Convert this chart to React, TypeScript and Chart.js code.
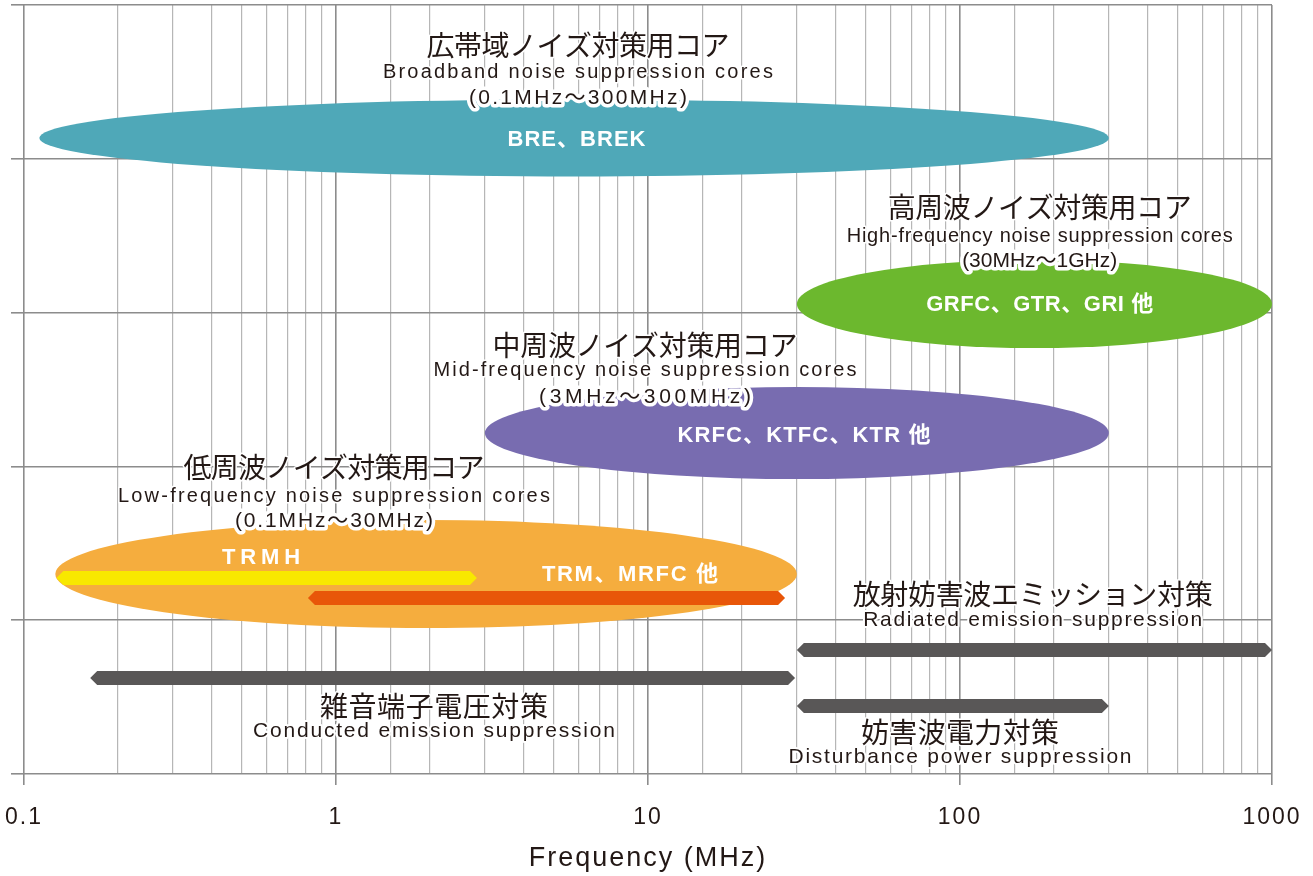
import { useEffect, useRef } from 'react';
import { Chart, registerables } from 'chart.js';

Chart.register(...registerables);

// ---------- data ----------
const tickLabels = ['0.1', '1', '10', '100', '1000'];
const axisTitle = 'Frequency (MHz)';

// noise suppression core families (ellipses), frequency in MHz, rows in chart units
const coreNames = ['広帯域ノイズ対策用コア', '高周波ノイズ対策用コア', '中周波ノイズ対策用コア', '低周波ノイズ対策用コア'];
const coreNamesEn = [
  'Broadband noise suppression cores',
  'High-frequency noise suppression cores',
  'Mid-frequency noise suppression cores',
  'Low-frequency noise suppression cores',
];
const coreRanges = ['(0.1MHz〜300MHz)', '(30MHz〜1GHz)', '(3MHz〜300MHz)', '(0.1MHz〜30MHz)'];
const coreFrom = [0.112, 30, 3, 0.126];
const coreTo = [300, 1000, 300, 30];
const coreTop = [4.386, 3.342, 2.516, 1.651];
const coreBottom = [3.885, 2.77, 1.918, 0.949];
const coreLabelX = [5.96, 180, 9.78, 0.985];
const coreTitleY = [4.74, 3.683, 2.789, 1.993];
const coreEnY = [4.564, 3.495, 2.624, 1.804];
const coreRangeY = [4.395, 3.335, 2.451, 1.645];

// product series labels
const productNames = ['BRE、BREK', 'GRFC、GTR、GRI 他', 'KRFC、KTFC、KTR 他', 'TRMH', 'TRM、MRFC 他'];
const productX = [5.9, 180, 31.6, 0.575, 8.75];
const productY = [4.122, 3.049, 2.198, 1.404, 1.294];

// sub bands inside the low-frequency family
const subFrom = [0.127, 0.813];
const subTo = [2.83, 27.5];
const subY = [1.274, 1.144];

// regulation bands
const regNames = ['放射妨害波エミッション対策', '雑音端子電圧対策', '妨害波電力対策'];
const regNamesEn = ['Radiated emission suppression', 'Conducted emission suppression', 'Disturbance power suppression'];
const regFrom = [30, 0.163, 30];
const regTo = [1000, 29.6, 300];
const regY = [0.806, 0.624, 0.442];
const regLabelX = [171, 2.06, 100];
const regTitleY = [1.17, 0.442, 0.273];
const regEnY = [0.998, 0.28, 0.107];

// ---------- styles ----------
const CORE_COLORS = ['#4fa8b8', '#6cb82e', '#786cb0', '#f5ad3e'];
const SUB_COLORS = ['#f8e800', '#e85609'];
const REG_COLOR = '#595757';
const TEXT = '#231815';
const MAJOR = '#8c8c8c';
const MINOR = '#b6b6b6';
const JP_FONT = '28px "Noto Sans CJK JP", sans-serif';
const EN_FONT = '20px "Liberation Sans", "Noto Sans CJK JP", sans-serif';
const REG_EN_FONT = '21px "Liberation Sans", "Noto Sans CJK JP", sans-serif';
const RANGE_FONT = '21px "Liberation Sans", "Noto Sans CJK JP", sans-serif';
const PRODUCT_FONT = 'bold 22px "Liberation Sans", "Noto Sans CJK JP", sans-serif';
const coreTitleW = [303, 304, 305, 301];
const coreEnW = [390, 386, 423, 432];
const coreRangeW = [218, 155, 212, 198];
const productW = [138, 227, 253, 78, 176];
const regTitleW = [360, 228, 198];
const regEnW = [339, 362, 343];
const BAR_H = 14;
const BAR_TIP = 7;

const isDecade = (v: number) => {
  const l = Math.log10(v);
  return Math.abs(l - Math.round(l)) < 1e-6;
};

function drawLabel(
  ctx: CanvasRenderingContext2D,
  text: string,
  cx: number,
  cy: number,
  font: string,
  color: string,
  width: number,
  halo: number
) {
  ctx.save();
  ctx.font = font;
  (ctx as any).letterSpacing = '0px';
  const w = ctx.measureText(text).width;
  const n = Array.from(text).length;
  let ls = 0;
  if (width && n > 1) ls = (width - w) / (n - 1);
  (ctx as any).letterSpacing = ls + 'px';
  ctx.textAlign = 'left';
  ctx.textBaseline = 'middle';
  const x = cx - (w + ls * (n - 1)) / 2;
  if (halo > 0) {
    ctx.lineWidth = halo;
    ctx.strokeStyle = '#ffffff';
    ctx.lineJoin = 'round';
    ctx.strokeText(text, x, cy);
  }
  ctx.fillStyle = color;
  ctx.fillText(text, x, cy);
  ctx.restore();
}

function drawBar(ctx: CanvasRenderingContext2D, x0: number, x1: number, yc: number, color: string) {
  const h = BAR_H / 2;
  ctx.beginPath();
  ctx.moveTo(x0, yc);
  ctx.lineTo(x0 + BAR_TIP, yc - h);
  ctx.lineTo(x1 - BAR_TIP, yc - h);
  ctx.lineTo(x1, yc);
  ctx.lineTo(x1 - BAR_TIP, yc + h);
  ctx.lineTo(x0 + BAR_TIP, yc + h);
  ctx.closePath();
  ctx.fillStyle = color;
  ctx.fill();
}

const bandsPlugin = {
  id: 'bands',
  beforeDraw(chart: any) {
    chart.ctx.letterSpacing = '2px';
  },
  afterDatasetsDraw(chart: any) {
    const { ctx, scales } = chart;
    const xs = scales.x;
    const ys = scales.y;
    ctx.save();
    // ellipses
    for (let i = 0; i < coreNames.length; i++) {
      const x0 = xs.getPixelForValue(coreFrom[i]);
      const x1 = xs.getPixelForValue(coreTo[i]);
      const y0 = ys.getPixelForValue(coreTop[i]);
      const y1 = ys.getPixelForValue(coreBottom[i]);
      ctx.beginPath();
      ctx.ellipse((x0 + x1) / 2, (y0 + y1) / 2, (x1 - x0) / 2, (y1 - y0) / 2, 0, 0, Math.PI * 2);
      ctx.fillStyle = CORE_COLORS[i];
      ctx.fill();
    }
    // sub bands
    for (let i = 0; i < subFrom.length; i++) {
      drawBar(ctx, xs.getPixelForValue(subFrom[i]), xs.getPixelForValue(subTo[i]), ys.getPixelForValue(subY[i]), SUB_COLORS[i]);
    }
    // regulation bands
    for (let i = 0; i < regFrom.length; i++) {
      drawBar(ctx, xs.getPixelForValue(regFrom[i]), xs.getPixelForValue(regTo[i]), ys.getPixelForValue(regY[i]), REG_COLOR);
    }
    // texts
    for (let i = 0; i < coreNames.length; i++) {
      const cx = xs.getPixelForValue(coreLabelX[i]);
      drawLabel(ctx, coreNames[i], cx, ys.getPixelForValue(coreTitleY[i]), JP_FONT, TEXT, coreTitleW[i], 3);
      drawLabel(ctx, coreNamesEn[i], cx, ys.getPixelForValue(coreEnY[i]), EN_FONT, TEXT, coreEnW[i], 3);
      drawLabel(ctx, coreRanges[i], cx, ys.getPixelForValue(coreRangeY[i]), RANGE_FONT, TEXT, coreRangeW[i], 7);
    }
    for (let i = 0; i < regNames.length; i++) {
      const cx = xs.getPixelForValue(regLabelX[i]);
      drawLabel(ctx, regNames[i], cx, ys.getPixelForValue(regTitleY[i]), JP_FONT, TEXT, regTitleW[i], 3);
      drawLabel(ctx, regNamesEn[i], cx, ys.getPixelForValue(regEnY[i]), REG_EN_FONT, TEXT, regEnW[i], 4);
    }
    for (let i = 0; i < productNames.length; i++) {
      drawLabel(ctx, productNames[i], xs.getPixelForValue(productX[i]), ys.getPixelForValue(productY[i]), PRODUCT_FONT, '#ffffff', productW[i], 0);
    }
    ctx.restore();
  },
  afterDraw(chart: any) {
    chart.ctx.letterSpacing = '0px';
  },
};

export default function App() {
  const ref = useRef<HTMLCanvasElement>(null);
  useEffect(() => {
    document.body.style.margin = '0';
    const chart = new Chart(ref.current as HTMLCanvasElement, {
      type: 'scatter',
      data: { datasets: [] },
      options: {
        animation: false,
        responsive: false,
        maintainAspectRatio: false,
        devicePixelRatio: 1,
        layout: { padding: { left: 0, top: 5, right: 41, bottom: 0 } },
        plugins: { legend: { display: false }, tooltip: { enabled: false } },
        scales: {
          x: {
            type: 'logarithmic',
            min: 0.1,
            max: 1000,
            position: 'bottom',
            border: { display: false },
            grid: {
              color: (c: any) => (isDecade(c.tick.value) ? MAJOR : MINOR),
              lineWidth: (c: any) => (isDecade(c.tick.value) ? 1.6 : 1.2),
              tickColor: (c: any) => (isDecade(c.tick.value) ? MAJOR : 'rgba(0,0,0,0)'),
              tickLength: 11,
            },
            ticks: {
              autoSkip: false,
              maxRotation: 0,
              padding: 19,
              color: TEXT,
              font: { size: 23, family: '"Liberation Sans", sans-serif' },
              callback: (v: any) => {
                const val = Number(v);
                if (!isDecade(val)) return '';
                return tickLabels[Math.round(Math.log10(val)) + 1] ?? '';
              },
            },
            title: {
              display: true,
              text: axisTitle,
              color: TEXT,
              font: { size: 27, family: '"Liberation Sans", sans-serif' },
              padding: { top: 0, bottom: 1 },
            },
            afterFit: (s: any) => {
              s.height = 102;
              s.paddingLeft = 0;
              s.paddingRight = 0;
            },
          } as any,
          y: {
            type: 'linear',
            min: 0,
            max: 5,
            border: { display: false },
            grid: { color: MAJOR, lineWidth: 1.6, tickLength: 13, tickColor: MAJOR },
            ticks: { display: false, stepSize: 1 },
            afterFit: (s: any) => {
              s.width = 24;
              s.paddingTop = 0;
              s.paddingBottom = 0;
            },
          } as any,
        },
      },
      plugins: [bandsPlugin],
    });
    return () => chart.destroy();
  }, []);
  return (
    <div style={{ position: 'absolute', left: 0, top: 0, width: 1313, height: 876 }}>
      <canvas ref={ref} width={1313} height={876} style={{ display: 'block' }} />
    </div>
  );
}
